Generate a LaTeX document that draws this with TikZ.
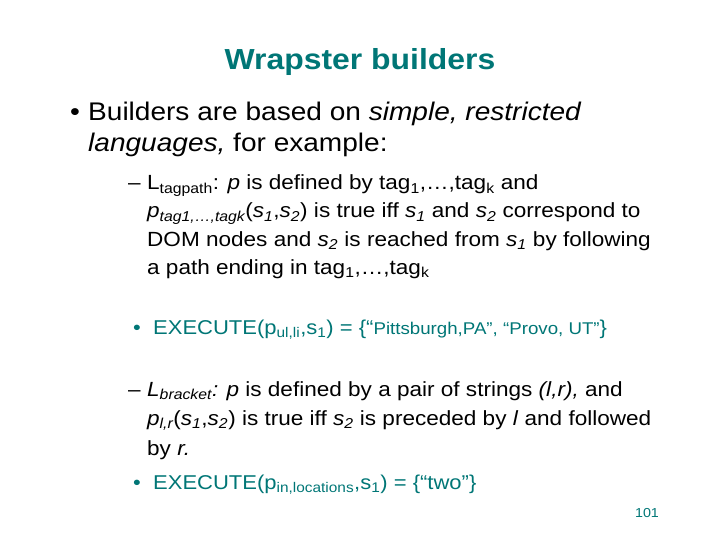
\documentclass[tikz,border=0pt]{standalone}
\usepackage{fontspec}
\setmainfont{Liberation Sans}[FakeStretch=1.1]
\definecolor{teal1}{RGB}{0,118,118}
\newcommand{\sbs}[1]{\textsubscript{#1}}
\begin{document}
\begin{tikzpicture}[x=1pt,y=-1pt,
  t/.style={anchor=base west,inner sep=0pt},
  lv1/.style={t,font=\fontsize{25.5}{28}\selectfont},
  lv2/.style={t,font=\fontsize{20.5}{25}\selectfont},
  lv3/.style={t,font=\fontsize{20}{24}\selectfont,text=teal1}]
\useasboundingbox (0,0) rectangle (720,540);
\node[anchor=base,inner sep=0pt,font=\fontsize{29}{32}\selectfont\bfseries,text=teal1] (title) at (360,70) {Wrapster builders};
\node[lv1] (b1) at (70,121) {•};
\node[lv1] (l1) at (88,121) {Builders are based on \textit{simple, restricted}};
\node[lv1] (l2) at (88,152) {\textit{languages,} for example:};
\node[lv2] (d1) at (128,190) {–};
\node[lv2] (s1) at (147,190) {L\sbs{tagpath}: \textit{p} is defined by tag\sbs{1},…,tag\sbs{k} and};
\node[lv2] (s2) at (147,218) {\textit{p\sbs{tag1,…,tagk}}(\textit{s\sbs{1}},\textit{s\sbs{2}}) is true iff \textit{s\sbs{1}} and \textit{s\sbs{2}} correspond to};
\node[lv2] (s3) at (147,246) {DOM nodes and \textit{s\sbs{2}} is reached from \textit{s\sbs{1}} by following};
\node[lv2] (s4) at (147,274) {a path ending in tag\sbs{1},…,tag\sbs{k}};
\node[lv3] (b2) at (133,334) {•};
\node[lv3] (e1) at (153,334) {EXECUTE(p\sbs{ul,li},s\sbs{1}) = \{“{\fontsize{17}{20}\selectfont Pittsburgh,PA”, “Provo, UT”}\}};
\node[lv2] (d2) at (128,396) {–};
\node[lv2] (r1) at (147,396) {\textit{L\sbs{bracket}: p} is defined by a pair of strings \textit{(l,r),} and};
\node[lv2] (r2) at (147,425) {\textit{p\sbs{l,r}}(\textit{s\sbs{1}},\textit{s\sbs{2}}) is true iff \textit{s\sbs{2}} is preceded by \textit{l} and followed};
\node[lv2] (r3) at (147,455) {by \textit{r.}};
\node[lv3] (b3) at (133,489) {•};
\node[lv3] (e2) at (153,489) {EXECUTE(p\sbs{in,locations},s\sbs{1}) = \{“two”\}};
\node[anchor=base,inner sep=0pt,font=\fontsize{13}{15}\selectfont,text=teal1] (pg) at (647,517) {101};
\end{tikzpicture}
\end{document}
